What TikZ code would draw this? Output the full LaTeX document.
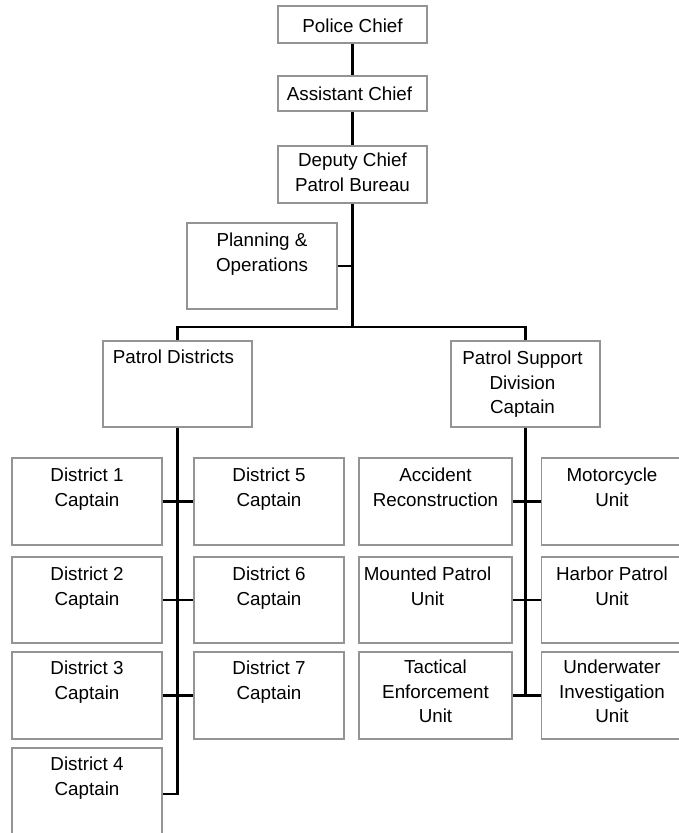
\documentclass[tikz,border=0pt]{standalone}
\usepackage{fontspec}
\setmainfont{Liberation Sans}
\begin{document}
\begin{tikzpicture}[x=1pt,y=-1pt,
  box/.style={draw=black!42,line width=1.8pt,fill=white,inner sep=0pt,minimum width=150pt,minimum height=87pt},
  txt/.style={anchor=north,inner sep=0pt,align=center,font=\fontsize{18.8}{24.3}\selectfont},
  ctxt/.style={inner sep=0pt,align=center,font=\fontsize{18.8}{24.3}\selectfont},
  conn/.style={draw=black,line width=2.6pt}]
\useasboundingbox (0,0) rectangle (679,833);
% top chain
\node[box,minimum width=149pt,minimum height=37pt] (pc) at (352.5,24.5) {};
\node[box,minimum width=149pt,minimum height=35pt] (ac) at (352.5,93.5) {};
\node[box,minimum width=149pt,minimum height=57pt] (dc) at (352.5,174.5) {};
\node[box,minimum height=86pt] (po) at (262,266) {};
\node[box,minimum width=149pt,minimum height=86pt] (pd) at (177.5,384) {};
\node[box,minimum width=149pt,minimum height=86pt] (ps) at (525.5,384) {};
% districts
\node[box] (d1) at (87,501.5) {};
\node[box] (d5) at (269,501.5) {};
\node[box,minimum height=86pt] (d2) at (87,600) {};
\node[box,minimum height=86pt] (d6) at (269,600) {};
\node[box] (d3) at (87,695.5) {};
\node[box] (d7) at (269,695.5) {};
\node[box,minimum height=92pt] (d4) at (87,794) {};
% support units
\node[box,minimum width=153pt] (ar) at (435.5,501.5) {};
\node[box,minimum width=153pt] (mc) at (618,501.5) {};
\node[box,minimum width=153pt,minimum height=86pt] (mp) at (435.5,600) {};
\node[box,minimum width=153pt,minimum height=86pt] (hp) at (618,600) {};
\node[box,minimum width=153pt] (te) at (435.5,695.5) {};
\node[box,minimum width=153pt] (uw) at (618,695.5) {};
% texts
\node[ctxt] (tpc) at ([yshift=-1pt]pc.center) {Police Chief};
\node[ctxt] (tac) at ([xshift=-3pt]ac.center) {Assistant Chief};
\node[txt] (tdc) at ([yshift=-8pt]dc.north) {Deputy Chief\\Patrol Bureau};
\node[txt] (tpo) at ([yshift=-11pt]po.north) {Planning \&\\Operations};
\node[txt] (tpd) at ([xshift=-4pt,yshift=-10pt]pd.north) {Patrol Districts};
\node[txt] (tps) at ([xshift=-3pt,yshift=-11pt]ps.north) {Patrol Support\\Division\\Captain};
\node[txt] (td1) at ([yshift=-11pt]d1.north) {District 1\\Captain};
\node[txt] (td5) at ([yshift=-11pt]d5.north) {District 5\\Captain};
\node[txt] (td2) at ([yshift=-11pt]d2.north) {District 2\\Captain};
\node[txt] (td6) at ([yshift=-11pt]d6.north) {District 6\\Captain};
\node[txt] (td3) at ([yshift=-10pt]d3.north) {District 3\\Captain};
\node[txt] (td7) at ([yshift=-10pt]d7.north) {District 7\\Captain};
\node[txt] (td4) at ([yshift=-10pt]d4.north) {District 4\\Captain};
\node[txt] (tar) at ([yshift=-11pt]ar.north) {Accident\\Reconstruction};
\node[txt] (tmc) at ([xshift=-6pt,yshift=-11pt]mc.north) {Motorcycle\\Unit};
\node[txt] (tmp) at ([xshift=-8pt,yshift=-11pt]mp.north) {Mounted Patrol\\Unit};
\node[txt] (thp) at ([xshift=-6pt,yshift=-11pt]hp.north) {Harbor Patrol\\Unit};
\node[txt] (tte) at ([yshift=-9pt]te.north) {Tactical\\Enforcement\\Unit};
\node[txt] (tuw) at ([xshift=-6pt,yshift=-9pt]uw.north) {Underwater\\Investigation\\Unit};
% connectors
\coordinate (bus) at (352.5,327);
\draw[conn] (pc.south) -- (ac.north);
\draw[conn] (ac.south) -- (dc.north);
\draw[conn] (dc.south) -- (bus);
\draw[conn] (po.east) -- (po.east -| bus);
\draw[conn] (pd.north) |- (bus) -| (ps.north);
\draw[conn] (pd.south) |- (d4.east);
\draw[conn] (d1.east) -- (d5.west);
\draw[conn] (d2.east) -- (d6.west);
\draw[conn] (d3.east) -- (d7.west);
\draw[conn] (ps.south) -- (ps.south |- te.east);
\draw[conn] (ar.east) -- (mc.west);
\draw[conn] (mp.east) -- (hp.west);
\draw[conn] (te.east) -- (uw.west);
\end{tikzpicture}
\end{document}
